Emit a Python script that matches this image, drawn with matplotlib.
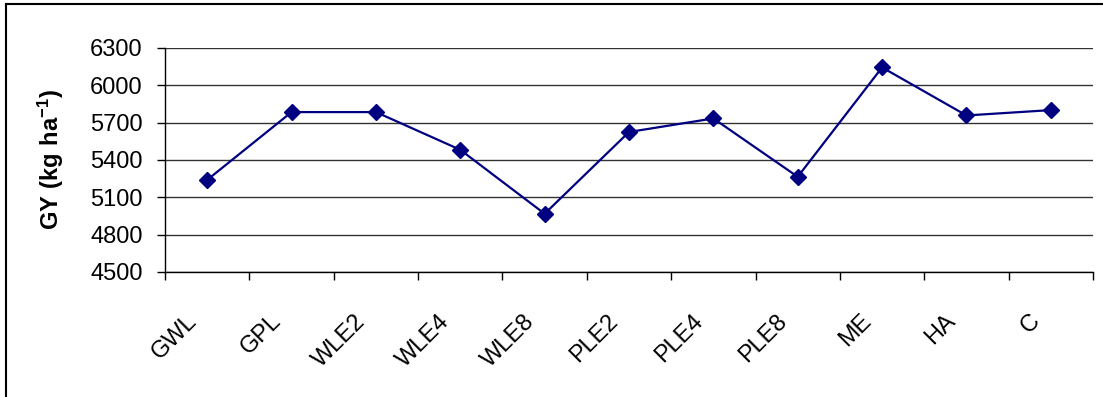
import matplotlib.pyplot as plt
from matplotlib.lines import Line2D
from matplotlib.transforms import ScaledTranslation, blended_transform_factory

plt.rcParams['font.family'] = ['Liberation Sans', 'DejaVu Sans']
plt.rcParams['mathtext.fontset'] = 'custom'
plt.rcParams['mathtext.rm'] = 'Liberation Sans'
plt.rcParams['mathtext.bf'] = 'Liberation Sans:bold'

treatments = ['GWL', 'GPL', 'WLE2', 'WLE4', 'WLE8', 'PLE2', 'PLE4', 'PLE8', 'ME', 'HA', 'C']
grain_yield = [5240, 5785, 5785, 5482, 4968, 5625, 5734, 5265, 6144, 5758, 5801]
y_ticks = [4500, 4800, 5100, 5400, 5700, 6000, 6300]

FS = 17
W, H = 1103, 397
fig = plt.figure(figsize=(W / 100, H / 100), dpi=100)
ax = fig.add_axes([165 / W, 1 - 272 / H, (1093 - 165) / W, (272 - 48) / H])

x = range(len(treatments))
ax.plot(x, grain_yield, color='#000080', lw=1.6, marker='D', ms=8,
        markeredgecolor='#000080', zorder=3, clip_on=False)

ax.set_xlim(-0.5, len(treatments) - 0.5)
ax.set_ylim(y_ticks[0], y_ticks[-1])
ax.set_yticks(y_ticks)
ax.set_yticklabels([str(v) for v in y_ticks], fontsize=FS)
ax.grid(axis='y', color='#333333', lw=1)
ax.set_axisbelow(True)

# tick marks between categories, labels drawn separately below
ax.set_xticks([i - 0.5 for i in range(len(treatments) + 1)])
ax.set_xticklabels([])
ax.tick_params(axis='x', length=6, direction='out', width=1)
ax.tick_params(axis='y', length=6, direction='out', width=1, pad=10)

trans = blended_transform_factory(ax.transData, ax.transAxes) + \
    ScaledTranslation(-14 / 100, -46 / 100, fig.dpi_scale_trans)
for i, name in enumerate(treatments):
    ax.text(i, 0, name, transform=trans, fontsize=FS, rotation=45,
            ha='right', va='center', rotation_mode='anchor')

for side in ['top', 'right']:
    ax.spines[side].set_visible(False)
for side in ['left', 'bottom']:
    ax.spines[side].set_linewidth(1)

ax.set_ylabel(r'$\mathbf{GY\ (kg\ ha^{-1})}$', fontsize=FS)
ax.yaxis.set_label_coords(-0.107, 0.5)

# outer chart frame (left and top edges)
fig.add_artist(Line2D([6 / W, 6 / W], [0, 1 - 4 / H], color='black', lw=1.5,
                      transform=fig.transFigure))
fig.add_artist(Line2D([6 / W, 1], [1 - 4 / H, 1 - 4 / H], color='black', lw=1.5,
                      transform=fig.transFigure))

fig.savefig('out.png', dpi=100, facecolor='white')
